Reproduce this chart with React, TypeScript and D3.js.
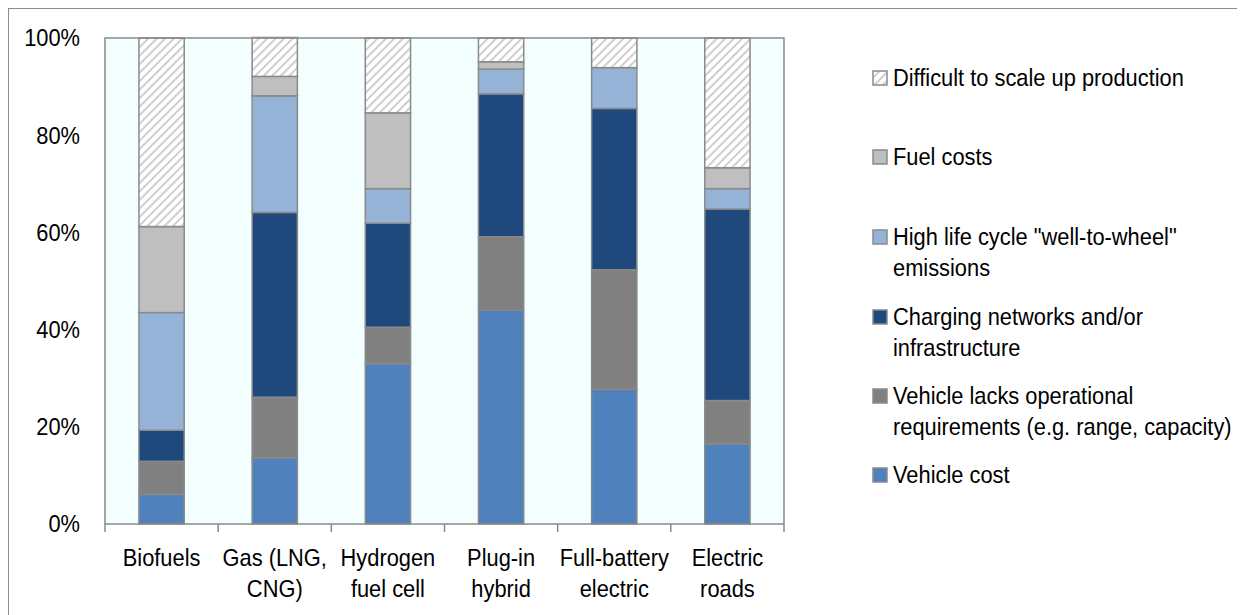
import React, { useRef, useEffect } from 'react';
import * as d3 from 'd3';

// categories along the x axis (two lines each)
const categories = ['Biofuels', 'Gas (LNG, CNG)', 'Hydrogen fuel cell', 'Plug-in hybrid', 'Full-battery electric', 'Electric roads'];
const categoryLines = [
  ['Biofuels'],
  ['Gas (LNG,', 'CNG)'],
  ['Hydrogen', 'fuel cell'],
  ['Plug-in', 'hybrid'],
  ['Full-battery', 'electric'],
  ['Electric', 'roads'],
];

// shares (%) per barrier, bottom to top of the stack
const vehicleCost = [6.1, 13.6, 33.0, 44.0, 27.7, 16.5];
const lacksOperational = [6.8, 12.5, 7.5, 15.1, 24.6, 8.9];
const chargingNetworks = [6.4, 38.0, 21.4, 29.4, 33.2, 39.4];
const highEmissions = [24.2, 24.0, 7.1, 5.1, 8.4, 4.2];
const fuelCosts = [17.7, 4.0, 15.6, 1.5, 0.0, 4.3];
const difficultScaleUp = [38.8, 8.0, 15.4, 4.9, 6.1, 26.7];

const yTicks = [0, 20, 40, 60, 80, 100];

const series = [
  { key: 'vehicleCost', values: vehicleCost, color: '#4F81BD', label: ['Vehicle cost'] },
  { key: 'lacks', values: lacksOperational, color: '#808080', label: ['Vehicle lacks operational', 'requirements (e.g. range, capacity)'] },
  { key: 'charging', values: chargingNetworks, color: '#1F497D', label: ['Charging networks and/or', 'infrastructure'] },
  { key: 'emissions', values: highEmissions, color: '#95B3D7', label: ['High life cycle "well-to-wheel"', 'emissions'] },
  { key: 'fuel', values: fuelCosts, color: '#BFBFBF', label: ['Fuel costs'] },
  { key: 'difficult', values: difficultScaleUp, color: 'url(#hatch)', label: ['Difficult to scale up production'] },
];

// no narrow font installed, so squeeze Liberation Sans horizontally
const FONT = '"Liberation Sans", Arial, sans-serif';
const FONT_SIZE = 24;
const SQUEEZE = 0.91;

const addText = (parent: any, x: number, y: number, txt: string, anchor = 'start') =>
  parent.append('text')
    .attr('transform', `translate(${x},${y}) scale(${SQUEEZE},1)`)
    .attr('dy', '0.35em')
    .attr('text-anchor', anchor)
    .attr('font-family', FONT)
    .attr('font-size', FONT_SIZE)
    .attr('fill', '#000')
    .text(txt);

const App: React.FC = () => {
  const svgRef = useRef<SVGSVGElement | null>(null);

  useEffect(() => {
    if (!svgRef.current) return;
    const svg = d3.select(svgRef.current);
    svg.selectAll('*').remove();

    const width = 1237;
    const height = 607;
    const margin = { left: 97, top: 30, right: 461, bottom: 91 };
    const innerW = width - margin.left - margin.right;
    const innerH = height - margin.top - margin.bottom;

    // hatch pattern for "Difficult to scale up production"
    const defs = svg.append('defs');
    const pat = defs.append('pattern')
      .attr('id', 'hatch')
      .attr('patternUnits', 'userSpaceOnUse')
      .attr('width', 6)
      .attr('height', 6)
      .attr('patternTransform', 'rotate(45)');
    pat.append('rect').attr('width', 6).attr('height', 6).attr('fill', '#ffffff');
    pat.append('rect').attr('x', 0).attr('width', 2).attr('height', 6).attr('fill', '#cfcfcf');

    // outer frame
    svg.append('rect')
      .attr('x', 0.5).attr('y', 0.5)
      .attr('width', width + 10).attr('height', height + 10)
      .attr('fill', '#ffffff')
      .attr('stroke', '#8c8c8c')
      .attr('stroke-width', 1);

    const g = svg.append('g').attr('transform', `translate(${margin.left},${margin.top})`);

    const x = d3.scaleBand<string>()
      .domain(categories)
      .range([0, innerW])
      .paddingInner(0.6)
      .paddingOuter(0.3);
    const xEdges = d3.scaleBand<string>().domain(categories).range([0, innerW]).padding(0);
    const y = d3.scaleLinear().domain([0, 100]).range([innerH, 0]);

    // plot background
    g.append('rect')
      .attr('width', innerW).attr('height', innerH)
      .attr('fill', '#F3FFFF');

    // stacked bars
    const rows = categories.map((c, i) => {
      const row: any = { cat: c };
      series.forEach(s => { row[s.key] = s.values[i]; });
      return row;
    });
    const stack = d3.stack<any>().keys(series.map(s => s.key));
    const layers = stack(rows);

    layers.forEach((layer, li) => {
      const s = series[li];
      g.append('g')
        .selectAll('rect')
        .data(layer.filter(d => d[1] - d[0] > 0))
        .enter()
        .append('rect')
        .attr('x', d => x(d.data.cat) as number)
        .attr('y', d => y(d[1]))
        .attr('width', x.bandwidth())
        .attr('height', d => y(d[0]) - y(d[1]))
        .attr('fill', s.color)
        .attr('stroke', '#8a8a8a')
        .attr('stroke-width', 1.5);
    });

    // plot frame (top, right, left)
    g.append('path')
      .attr('d', `M0,${innerH}V0H${innerW}V${innerH}`)
      .attr('fill', 'none')
      .attr('stroke', '#8a8a8a')
      .attr('stroke-width', 1.5);

    // x axis line + category ticks
    g.append('line')
      .attr('x1', 0).attr('x2', innerW)
      .attr('y1', innerH).attr('y2', innerH)
      .attr('stroke', '#8a8a8a').attr('stroke-width', 1.5);
    const edges = categories.map(c => xEdges(c) as number).concat([innerW]);
    g.selectAll('.xtick')
      .data(edges)
      .enter()
      .append('line')
      .attr('x1', d => d).attr('x2', d => d)
      .attr('y1', innerH).attr('y2', innerH + 8)
      .attr('stroke', '#8a8a8a').attr('stroke-width', 1.5);

    // x labels
    categoryLines.forEach((lines, i) => {
      const cx = (xEdges(categories[i]) as number) + xEdges.bandwidth() / 2;
      lines.forEach((ln, j) => {
        addText(g, cx, innerH + 34 + j * 31, ln, 'middle');
      });
    });

    // y labels
    yTicks.forEach(t => {
      addText(g, -25, y(t), `${t}%`, 'end');
    });

    // legend, top to bottom in reverse stack order
    const legendRows = [
      { s: series[5], y: 70 },
      { s: series[4], y: 149 },
      { s: series[3], y: 229 },
      { s: series[2], y: 309 },
      { s: series[1], y: 388 },
      { s: series[0], y: 467 },
    ];
    const lg = svg.append('g');
    legendRows.forEach(r => {
      lg.append('rect')
        .attr('x', 865).attr('y', r.y - 7)
        .attr('width', 14).attr('height', 14)
        .attr('fill', r.s.color)
        .attr('stroke', '#8a8a8a')
        .attr('stroke-width', 1.5);
      r.s.label.forEach((ln, j) => {
        addText(lg, 885, r.y + j * 31, ln);
      });
    });
  }, []);

  return (
    <div style={{ width: 1237, height: 607 }}>
      <svg ref={svgRef} width={1237} height={607} style={{ display: 'block' }} />
    </div>
  );
};

export default App;
